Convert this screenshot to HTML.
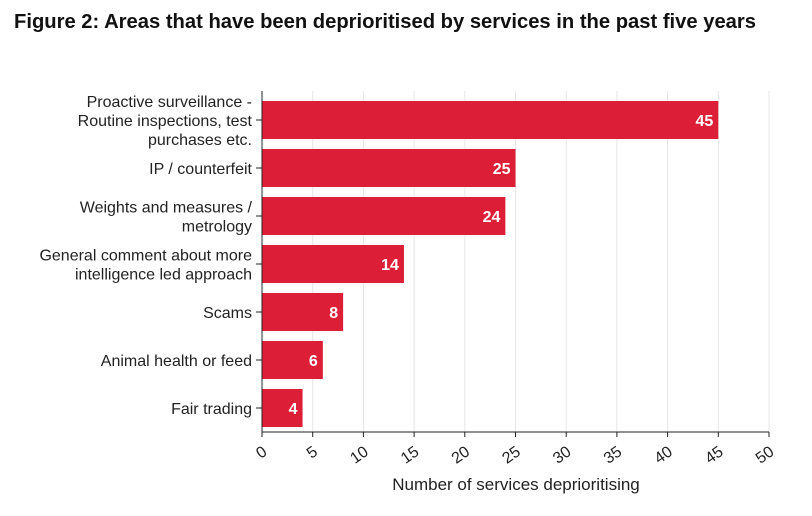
<!DOCTYPE html>
<html><head><meta charset="utf-8"><style>
body{margin:0;background:#fff;width:812px;height:511px;overflow:hidden;font-family:"Liberation Sans",sans-serif}
</style></head><body>
<svg width="812" height="511">
<text x="14" y="28" font-size="20.2" font-weight="bold" fill="#111">Figure 2: Areas that have been deprioritised by services in the past five years</text>
<g id="plot"></g>
</svg>
<script>
const categories=[["Proactive surveillance -","Routine inspections, test","purchases etc."],["IP / counterfeit"],["Weights and measures /","metrology"],["General comment about more","intelligence led approach"],["Scams"],["Animal health or feed"],["Fair trading"]];
const values=[45,25,24,14,8,6,4];
const ticks=[0,5,10,15,20,25,30,35,40,45,50];
const g=document.getElementById('plot');
const NS='http://www.w3.org/2000/svg';
const x0=262,x1=769,yTop=91,yBottom=432,band=48;
const xs=v=>x0+(v/50)*(x1-x0);
const ys=i=>yTop+4+i*band;
function mk(t,a,p){const e=document.createElementNS(NS,t);for(const k in a)e.setAttribute(k,a[k]);(p||g).appendChild(e);return e;}
ticks.forEach(t=>{
 if(t>0){const l=mk('line',{x1:xs(t),x2:xs(t),y1:yTop,y2:yBottom,stroke:'#e6e6e6'});
 
 }
 mk('line',{x1:xs(t),x2:xs(t),y1:yBottom,y2:yBottom+5,stroke:'#222'});
 const tx=mk('text',{x:xs(t)+6,y:yBottom+22,'font-size':16,fill:'#222','text-anchor':'end',transform:`rotate(-35 ${xs(t)+6} ${yBottom+22})`});
 tx.textContent=t;
 
 
});
values.forEach((v,i)=>{
 const yc=ys(i)+band/2+1;
 const r=mk('rect',{x:x0,y:yc-19,width:xs(v)-x0,height:38,fill:'#dc1f36'});
 
 
 const vt=mk('text',{x:xs(v)-5,y:yc+6,'font-size':16,'font-weight':'bold',fill:'#fff','text-anchor':'end'});
 vt.textContent=v;
 
 
 mk('line',{x1:x0-6,x2:x0,y1:yc,y2:yc,stroke:'#222'});
 const lines=categories[i];
 lines.forEach((s,j)=>{
  const t=mk('text',{x:x0-10,y:yc+6+(j-(lines.length-1)/2)*19,'font-size':16,fill:'#222','text-anchor':'end'});
  t.textContent=s;
  
  
 });
});
mk('line',{x1:x0,x2:x0,y1:yTop,y2:yBottom,stroke:'#222'});
mk('line',{x1:x0,x2:x1,y1:yBottom,y2:yBottom,stroke:'#222'});
const at=mk('text',{x:516,y:490,'font-size':17,fill:'#222','text-anchor':'middle'});
at.textContent='Number of services deprioritising';


</script>
</body></html>
